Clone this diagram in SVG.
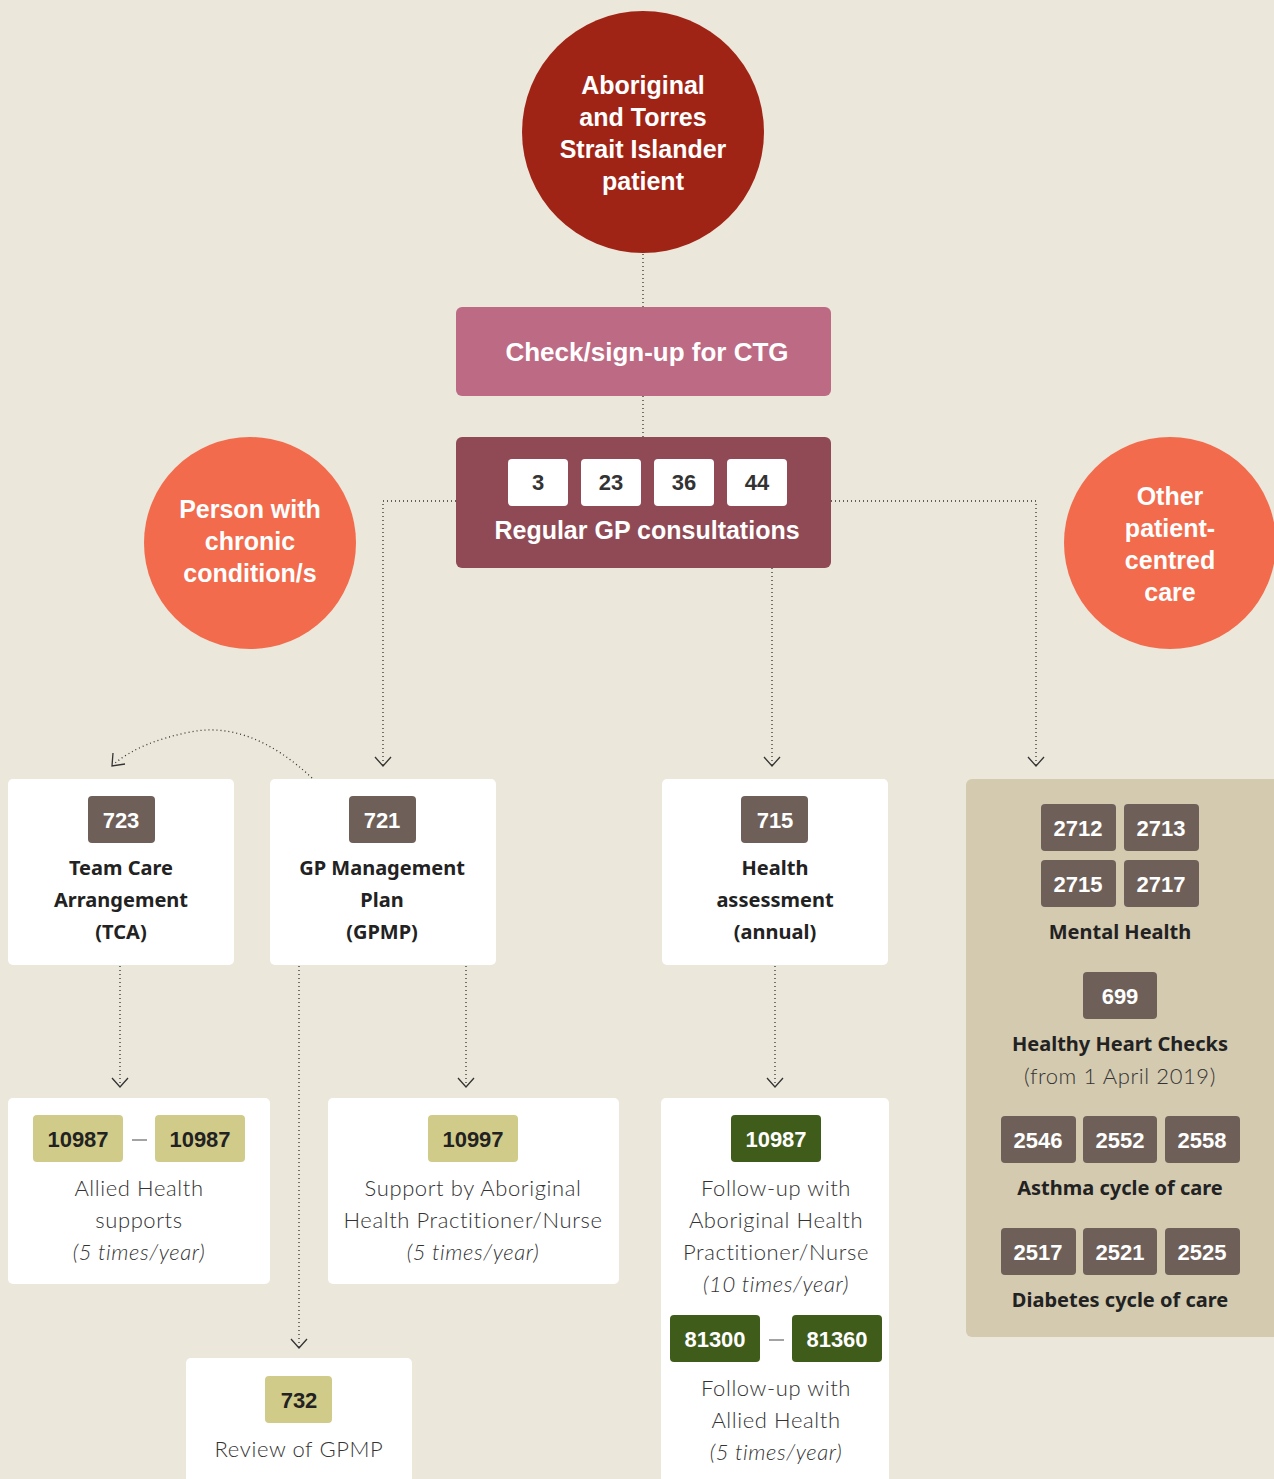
<svg xmlns="http://www.w3.org/2000/svg" width="1274" height="1479" viewBox="0 0 1274 1479">
<defs>
<style>
.bg{fill:#ECE7DB}
.conn{fill:none;stroke:#333;stroke-width:1.3;stroke-dasharray:1 3}
.arr{fill:none;stroke:#333;stroke-width:1.3}
.wb{fill:#fff}
.bd{fill:#6E6059}
.ol{fill:#D1CB89}
.gr{fill:#3F5C1A}
.wt{fill:#fff;font-family:"Liberation Sans",Arial,sans-serif;font-weight:700;font-size:25px;text-anchor:middle}
.num{font-family:"Liberation Sans",Arial,sans-serif;font-weight:700;font-size:22px;text-anchor:middle}
.nw{fill:#fff}
.nd{fill:#222}
.ttl{fill:#222;font-family:"Noto Sans",sans-serif;font-weight:700;font-size:20px;text-anchor:middle}
.lt{fill:#333;font-family:Lato,"Noto Sans",sans-serif;font-weight:300;font-size:22px;text-anchor:middle;letter-spacing:0.6px}
.it{font-style:italic}
</style>
</defs>
<rect class="bg" x="0" y="0" width="1274" height="1479"/>

<g id="connectors">
<path class="conn" d="M643,254 V307"/>
<path class="conn" d="M643,396 V437"/>
<path class="conn" d="M456,501 H383 V765"/>
<path class="arr" d="M375,757 L383,766 L391,757"/>
<path class="conn" d="M772,568 V765"/>
<path class="arr" d="M764,757 L772,766 L780,757"/>
<path class="conn" d="M831,501 H1036 V765"/>
<path class="arr" d="M1028,757 L1036,766 L1044,757"/>
<path class="conn" d="M312,778 Q250,720 190,732 Q140,742 114,764"/>
<path class="arr" d="M113,753 L112,766 L125,764"/>
<path class="conn" d="M120,966 V1086"/>
<path class="arr" d="M112,1078 L120,1087 L128,1078"/>
<path class="conn" d="M466,966 V1086"/>
<path class="arr" d="M458,1078 L466,1087 L474,1078"/>
<path class="conn" d="M775,966 V1086"/>
<path class="arr" d="M767,1078 L775,1087 L783,1078"/>
<path class="conn" d="M299,966 V1347"/>
<path class="arr" d="M291,1339 L299,1348 L307,1339"/>
</g>

<g id="patient">
<circle cx="643" cy="132" r="121" fill="#A02416"/>
<text class="wt" x="643" y="94">Aboriginal</text>
<text class="wt" x="643" y="126">and Torres</text>
<text class="wt" x="643" y="158">Strait Islander</text>
<text class="wt" x="643" y="190">patient</text>
</g>

<g id="ctg">
<rect x="456" y="307" width="375" height="89" rx="6" fill="#BD6A84"/>
<text class="wt" x="647" y="361" style="font-size:26px">Check/sign-up for CTG</text>
</g>

<g id="gp">
<rect x="456" y="437" width="375" height="131" rx="6" fill="#8F4A55"/>
<rect class="wb" x="508" y="459" width="60" height="47" rx="4"/>
<rect class="wb" x="581" y="459" width="60" height="47" rx="4"/>
<rect class="wb" x="654" y="459" width="60" height="47" rx="4"/>
<rect class="wb" x="727" y="459" width="60" height="47" rx="4"/>
<text class="num" x="538" y="490" fill="#333">3</text>
<text class="num" x="611" y="490" fill="#333">23</text>
<text class="num" x="684" y="490" fill="#333">36</text>
<text class="num" x="757" y="490" fill="#333">44</text>
<text class="wt" x="647" y="539">Regular GP consultations</text>
</g>

<g id="chronic">
<circle cx="250" cy="543" r="106" fill="#F26B4C"/>
<text class="wt" x="250" y="518">Person with</text>
<text class="wt" x="250" y="550">chronic</text>
<text class="wt" x="250" y="582">condition/s</text>
</g>

<g id="other">
<circle cx="1170" cy="543" r="106" fill="#F26B4C"/>
<text class="wt" x="1170" y="505">Other</text>
<text class="wt" x="1170" y="537">patient-</text>
<text class="wt" x="1170" y="569">centred</text>
<text class="wt" x="1170" y="601">care</text>
</g>

<g id="tca">
<rect class="wb" x="8" y="779" width="226" height="186" rx="5"/>
<rect class="bd" x="88" y="796" width="67" height="47" rx="4"/>
<text class="num nw" x="121" y="828">723</text>
<text class="ttl" x="121" y="875">Team Care</text>
<text class="ttl" x="121" y="907">Arrangement</text>
<text class="ttl" x="121" y="939">(TCA)</text>
</g>

<g id="gpmp">
<rect class="wb" x="270" y="779" width="226" height="186" rx="5"/>
<rect class="bd" x="349" y="796" width="67" height="47" rx="4"/>
<text class="num nw" x="382" y="828">721</text>
<text class="ttl" x="382" y="875">GP Management</text>
<text class="ttl" x="382" y="907">Plan</text>
<text class="ttl" x="382" y="939">(GPMP)</text>
</g>

<g id="health">
<rect class="wb" x="662" y="779" width="226" height="186" rx="5"/>
<rect class="bd" x="741" y="796" width="67" height="47" rx="4"/>
<text class="num nw" x="775" y="828">715</text>
<text class="ttl" x="775" y="875">Health</text>
<text class="ttl" x="775" y="907">assessment</text>
<text class="ttl" x="775" y="939">(annual)</text>
</g>

<g id="othercare">
<rect x="966" y="779" width="320" height="558" rx="6" fill="#D3CAB0"/>
<rect class="bd" x="1041" y="804" width="75" height="47" rx="4"/>
<rect class="bd" x="1124" y="804" width="75" height="47" rx="4"/>
<rect class="bd" x="1041" y="860" width="75" height="47" rx="4"/>
<rect class="bd" x="1124" y="860" width="75" height="47" rx="4"/>
<text class="num nw" x="1078" y="836">2712</text>
<text class="num nw" x="1161" y="836">2713</text>
<text class="num nw" x="1078" y="892">2715</text>
<text class="num nw" x="1161" y="892">2717</text>
<text class="ttl" x="1120" y="939">Mental Health</text>
<rect class="bd" x="1083" y="972" width="74" height="47" rx="4"/>
<text class="num nw" x="1120" y="1004">699</text>
<text class="ttl" x="1120" y="1051">Healthy Heart Checks</text>
<text class="lt" x="1120" y="1084">(from 1 April 2019)</text>
<rect class="bd" x="1001" y="1116" width="75" height="47" rx="4"/>
<rect class="bd" x="1083" y="1116" width="74" height="47" rx="4"/>
<rect class="bd" x="1165" y="1116" width="75" height="47" rx="4"/>
<text class="num nw" x="1038" y="1148">2546</text>
<text class="num nw" x="1120" y="1148">2552</text>
<text class="num nw" x="1202" y="1148">2558</text>
<text class="ttl" x="1120" y="1195">Asthma cycle of care</text>
<rect class="bd" x="1001" y="1228" width="75" height="47" rx="4"/>
<rect class="bd" x="1083" y="1228" width="74" height="47" rx="4"/>
<rect class="bd" x="1165" y="1228" width="75" height="47" rx="4"/>
<text class="num nw" x="1038" y="1260">2517</text>
<text class="num nw" x="1120" y="1260">2521</text>
<text class="num nw" x="1202" y="1260">2525</text>
<text class="ttl" x="1120" y="1307">Diabetes cycle of care</text>
</g>

<g id="allied">
<rect class="wb" x="8" y="1098" width="262" height="186" rx="5"/>
<rect class="ol" x="33" y="1115" width="90" height="47" rx="4"/>
<rect class="ol" x="155" y="1115" width="90" height="47" rx="4"/>
<text class="num nd" x="78" y="1147">10987</text>
<text class="num nd" x="200" y="1147">10987</text>
<path d="M132,1140 H147" stroke="#666" stroke-width="1.2"/>
<text class="lt" x="139" y="1196">Allied Health</text>
<text class="lt" x="139" y="1228">supports</text>
<text class="lt it" x="139" y="1260">(5 times/year)</text>
</g>

<g id="support">
<rect class="wb" x="328" y="1098" width="291" height="186" rx="5"/>
<rect class="ol" x="428" y="1115" width="90" height="47" rx="4"/>
<text class="num nd" x="473" y="1147">10997</text>
<text class="lt" x="473" y="1196">Support by Aboriginal</text>
<text class="lt" x="473" y="1228">Health Practitioner/Nurse</text>
<text class="lt it" x="473" y="1260">(5 times/year)</text>
</g>

<g id="followup">
<rect class="wb" x="661" y="1098" width="228" height="390" rx="5"/>
<rect class="gr" x="731" y="1115" width="90" height="47" rx="4"/>
<text class="num nw" x="776" y="1147">10987</text>
<text class="lt" x="776" y="1196">Follow-up with</text>
<text class="lt" x="776" y="1228">Aboriginal Health</text>
<text class="lt" x="776" y="1260">Practitioner/Nurse</text>
<text class="lt it" x="776" y="1292">(10 times/year)</text>
<rect class="gr" x="670" y="1315" width="90" height="47" rx="4"/>
<rect class="gr" x="792" y="1315" width="90" height="47" rx="4"/>
<text class="num nw" x="715" y="1347">81300</text>
<text class="num nw" x="837" y="1347">81360</text>
<path d="M769,1340 H784" stroke="#666" stroke-width="1.2"/>
<text class="lt" x="776" y="1396">Follow-up with</text>
<text class="lt" x="776" y="1428">Allied Health</text>
<text class="lt it" x="776" y="1460">(5 times/year)</text>
</g>

<g id="review">
<rect class="wb" x="186" y="1358" width="226" height="130" rx="5"/>
<rect class="ol" x="265" y="1376" width="67" height="47" rx="4"/>
<text class="num nd" x="299" y="1408">732</text>
<text class="lt" x="299" y="1457">Review of GPMP</text>
</g>
</svg>
